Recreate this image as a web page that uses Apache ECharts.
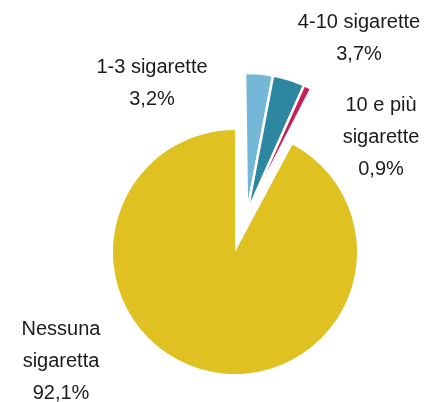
<!DOCTYPE html>
<html>
<head>
<meta charset="utf-8">
<script src="https://cdn.jsdelivr.net/npm/echarts@6/dist/echarts.min.js"></script>
<style>
  html, body { margin: 0; padding: 0; background: #fff; }
  #chart { width: 437px; height: 402px; }
</style>
</head>
<body>
<div id="chart"></div>
<script>
// categorie e quote (%)
const categories = ['1-3 sigarette', '4-10 sigarette', '10 e più\nsigarette', 'Nessuna\nsigaretta']
const values = [3.2, 3.7, 0.9, 92.1]
const colors = ['#74B7D6', '#2E87A1', '#C81F58', '#DFC222']

const chart = echarts.init(document.getElementById('chart'))

const fmt = (v) => v.toFixed(1).replace('.', ',') + '%'

// posizione etichette (centro del blocco di testo)
const labelSpot = {
    0: [152, 83],
    1: [359, 38],
    2: [381, 137],
    3: [61, 361]
}
const placeLabel = (params) => {
    const p = labelSpot[params.dataIndex]
    return { x: p[0], y: p[1], align: 'center', verticalAlign: 'middle' }
}

const labelStyle = {
    show: true,
    position: 'outside',
    overflow: 'none',
    color: '#1b1b1b',
    fontFamily: 'Liberation Sans, Arial, sans-serif',
    fontSize: 20,
    lineHeight: 32,
    formatter: (p) => p.name + '\n' + fmt(p.value)
}

const option = {
    animation: false,
    series: [
        {
            // fetta grande
            type: 'pie',
            center: [235, 252],
            radius: 122,
            startAngle: 90,
            clockwise: true,
            silent: true,
            labelLine: { show: false },
            labelLayout: placeLabel,
            data: categories.map((name, i) => {
                const big = i === categories.length - 1
                return {
                    name: name,
                    value: values[i],
                    itemStyle: { color: big ? colors[i] : 'transparent' },
                    label: big ? labelStyle : { show: false }
                }
            })
        },
        {
            // fette staccate
            type: 'pie',
            center: [247, 213],
            radius: 140,
            startAngle: 90.8,
            clockwise: true,
            silent: true,
            labelLine: { show: false },
            labelLayout: placeLabel,
            data: categories.map((name, i) => {
                const big = i === categories.length - 1
                return {
                    name: name,
                    value: values[i],
                    itemStyle: big
                        ? { color: 'transparent', borderWidth: 0 }
                        : { color: colors[i], borderColor: '#fff', borderWidth: 2.5 },
                    label: big ? { show: false } : labelStyle
                }
            })
        }
    ]
}

chart.setOption(option)
</script>
</body>
</html>
